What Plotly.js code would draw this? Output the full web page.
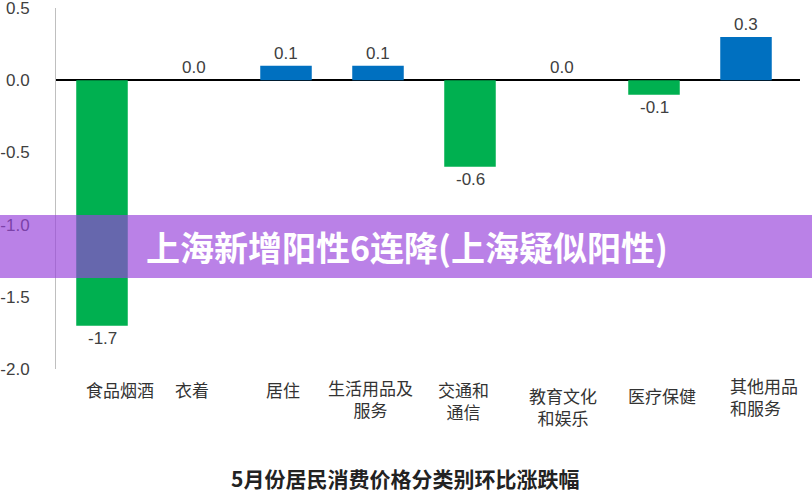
<!DOCTYPE html>
<html>
<head>
<meta charset="utf-8">
<script src="https://cdn.plot.ly/plotly-3.0.1.min.js"></script>
<style>
  html, body { margin: 0; padding: 0; background: #fff; }
  #chart { width: 812px; height: 494px; }
</style>
</head>
<body>
<div id="chart"></div>
<script>
// 5月份居民消费价格分类别环比涨跌幅 (%)
const categories = ['食品烟酒', '衣着', '居住', '生活用品及服务', '交通和通信', '教育文化和娱乐', '医疗保健', '其他用品和服务'];
const labelLines = ['食品烟酒', '衣着', '居住', '生活用品及<br>服务', '交通和<br>通信', '教育文化<br>和娱乐', '医疗保健', '其他用品<br>和服务'];
const changes = [-1.7, 0.0, 0.1, 0.1, -0.6, 0.0, -0.1, 0.3];
const yTicks = [0.5, 0.0, -0.5, -1.0, -1.5, -2.0];

// label nudges (px) so the category text sits like the original picture
const labelDx = [18, -2, -3, -8, -7, 1, 8, 18];
const labelDy = [-6, -6, -6, -4, -6, -12, -12, -2];
const labelAlign = ['center', 'center', 'center', 'center', 'center', 'center', 'center', 'left'];

const BLUE = '#0070c0';
const GREEN = '#00b050';

const trace = {
  type: 'bar',
  x: categories,
  y: changes,
  marker: { color: changes.map(v => v >= 0 ? BLUE : GREEN) },
  hoverinfo: 'x+y'
};

// value labels above positive bars, below negative ones
const valueNotes = categories.map((c, i) => ({
  x: c,
  y: changes[i],
  xref: 'x',
  yref: 'y',
  text: changes[i].toFixed(1),
  showarrow: false,
  yanchor: changes[i] < 0 ? 'top' : 'bottom',
  yshift: changes[i] < 0 ? -1 : 1,
  font: { family: 'Liberation Sans, Arial, sans-serif', size: 17, color: '#404040' }
}));

const catNotes = categories.map((c, i) => ({
  x: c,
  y: 0,
  xref: 'x',
  yref: 'paper',
  text: labelLines[i],
  showarrow: false,
  xanchor: 'center',
  yanchor: 'top',
  align: labelAlign[i],
  xshift: labelDx[i],
  yshift: labelDy[i],
  font: { family: 'Noto Sans CJK SC, sans-serif', size: 17, color: '#333333' }
}));

const layout = {
  width: 812,
  height: 494,
  paper_bgcolor: '#ffffff',
  plot_bgcolor: '#ffffff',
  margin: { t: 8, r: 12, b: 125, l: 56 },
  showlegend: false,
  bargap: 0.44,
  xaxis: {
    type: 'category',
    showticklabels: false,
    showgrid: false,
    zeroline: false,
    showline: false,
    ticks: ''
  },
  yaxis: {
    range: [-2.0, 0.5],
    tickvals: yTicks,
    ticktext: yTicks.map(v => v.toFixed(1)),
    ticklabeloverflow: 'allow',
    showgrid: false,
    zeroline: true,
    zerolinecolor: '#000000',
    zerolinewidth: 2,
    showline: true,
    linecolor: '#bfbfbf',
    linewidth: 1,
    ticks: '',
    ticklabelstandoff: 22,
    tickfont: { family: 'Liberation Sans, Arial, sans-serif', size: 17, color: '#404040' }
  },
  shapes: [{
    type: 'rect',
    xref: 'paper',
    yref: 'paper',
    x0: -0.1,
    x1: 1.1,
    y0: 0.252,
    y1: 0.4266,
    fillcolor: 'rgba(152, 67, 219, 0.67)',
    line: { width: 0 },
    layer: 'above'
  }],
  annotations: valueNotes.concat(catNotes).concat([
    {
      xref: 'paper', yref: 'paper',
      x: 0.472, y: 0.338,
      text: '<b>上海新增阳性6连降(上海疑似阳性)</b>',
      showarrow: false,
      xanchor: 'center', yanchor: 'middle',
      font: { family: 'Noto Sans CJK SC, sans-serif', size: 34, color: '#ffffff' }
    },
    {
      xref: 'paper', yref: 'paper',
      x: 0.469, y: 0,
      text: '<b>5月份居民消费价格分类别环比涨跌幅</b>',
      showarrow: false,
      xanchor: 'center', yanchor: 'top',
      yshift: -92,
      font: { family: 'Noto Sans CJK SC, sans-serif', size: 21, color: '#222222' }
    }
  ])
};

Plotly.newPlot('chart', [trace], layout, { displayModeBar: false, staticPlot: true });
</script>
</body>
</html>
